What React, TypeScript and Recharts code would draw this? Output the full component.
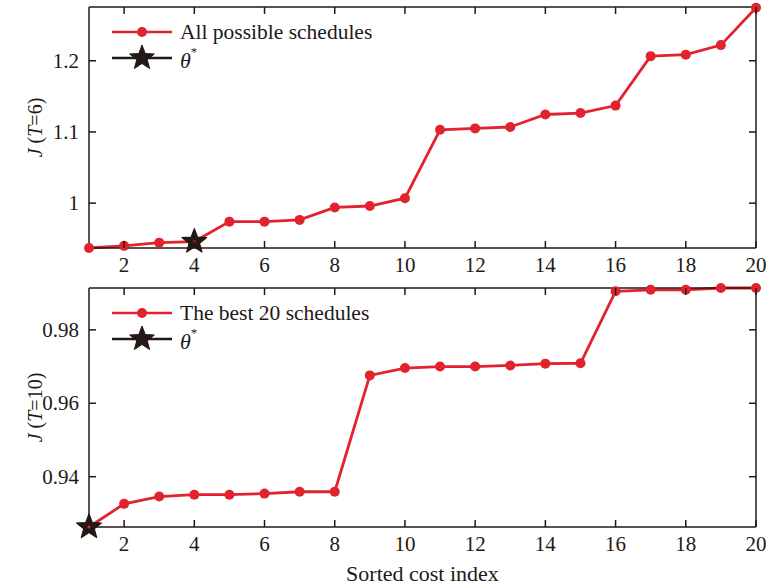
import React from 'react';
import { LineChart, Line, XAxis, YAxis, Legend } from 'recharts';

const sortedIndex = [1, 2, 3, 4, 5, 6, 7, 8, 9, 10, 11, 12, 13, 14, 15, 16, 17, 18, 19, 20];
const allSchedulesT6 = [0.937, 0.94, 0.9445, 0.946, 0.974, 0.974, 0.9765, 0.994, 0.996, 1.007, 1.103, 1.105, 1.107, 1.1245, 1.1265, 1.137, 1.2065, 1.2085, 1.222, 1.2745];
const best20T10 = [0.9263, 0.9326, 0.9346, 0.9351, 0.9351, 0.9354, 0.9359, 0.9359, 0.9676, 0.9696, 0.97, 0.97, 0.9703, 0.9708, 0.9709, 0.9905, 0.9909, 0.9909, 0.9914, 0.9914];
const thetaStarIndexT6 = 4;
const thetaStarIndexT10 = 1;
const xTicks = [2, 4, 6, 8, 10, 12, 14, 16, 18, 20];
const yTicksT6 = [1, 1.1, 1.2];
const yTicksT10 = [0.94, 0.96, 0.98];
const yDomainT6: [number, number] = [0.937, 1.2755];
const yDomainT10: [number, number] = [0.9263, 0.9914];

const RED = '#e2232e';
const DARK = '#231815';
const FONT = '"Liberation Serif", "Times New Roman", serif';
const TICK_LEN = 7;
const X_GAP = 9;
const Y_GAP = 10;

const buildData = (vals: number[], starIdx: number) =>
  sortedIndex.map((i, k) => ({ idx: i, J: vals[k], star: i === starIdx ? vals[k] : null }));

const dataT6 = buildData(allSchedulesT6, thetaStarIndexT6);
const dataT10 = buildData(best20T10, thetaStarIndexT10);

const starPoints = (cx: number, cy: number, R: number, r: number) => {
  const pts: string[] = [];
  for (let i = 0; i < 10; i++) {
    const rad = i % 2 === 0 ? R : r;
    const a = -Math.PI / 2 + (i * Math.PI) / 5;
    pts.push(`${cx + rad * Math.cos(a)},${cy + rad * Math.sin(a)}`);
  }
  return pts.join(' ');
};

const StarDot = (props: any) => {
  const { cx, cy, value, index } = props;
  if (value == null || cx == null || cy == null) return <g key={`s${index}`} />;
  return (
    <g key={`s${index}`}>
      <polygon points={starPoints(cx, cy, 13, 5.5)} fill={DARK} stroke={DARK} strokeWidth={1.2} strokeLinejoin="round" />
      <circle cx={cx} cy={cy} r={1.6} fill={RED} />
    </g>
  );
};

const YLabel = ({ viewBox, t }: any) => {
  const { x, y, height } = viewBox;
  const cx = x + 35;
  const cy = y + height / 2;
  return (
    <text x={cx} y={cy} transform={`rotate(-90 ${cx} ${cy})`} textAnchor="middle" dominantBaseline="central"
      fontFamily={FONT} fontSize={20} fill={DARK}>
      <tspan fontStyle="italic">J</tspan>
      <tspan> (</tspan>
      <tspan fontStyle="italic">T</tspan>
      <tspan>={t})</tspan>
    </text>
  );
};

const makeLegend = (label: string) => () => (
  <svg width={320} height={60} style={{ display: 'block' }}>
    <line x1={8} x2={68} y1={13} y2={13} stroke={RED} strokeWidth={2.5} />
    <circle cx={38} cy={13} r={5} fill={RED} />
    <text x={76} y={13} dominantBaseline="central" fontFamily={FONT} fontSize={21.5} fill={DARK}>{label}</text>
    <line x1={8} x2={68} y1={39} y2={39} stroke={DARK} strokeWidth={2.5} />
    <polygon points={starPoints(38, 39, 13, 5.5)} fill={DARK} stroke={DARK} strokeLinejoin="round" />
    <text x={76} y={41} dominantBaseline="central" fontFamily={FONT} fontSize={22} fill={DARK}>
      <tspan fontStyle="italic">θ</tspan>
      <tspan dy={-9} fontSize={13}>*</tspan>
    </text>
  </svg>
);

const BottomTick = (props: any) => {
  const { x, y, payload } = props;
  const ay = y - X_GAP;
  return (
    <g>
      <line x1={x} x2={x} y1={ay} y2={ay - TICK_LEN} stroke={DARK} strokeWidth={1.5} />
      <text x={x} y={y} textAnchor="middle" dominantBaseline="hanging" fontFamily={FONT} fontSize={21} fill={DARK}>
        {payload.value}
      </text>
    </g>
  );
};
const TopTick = (props: any) => {
  const { x, y } = props;
  return <line x1={x} x2={x} y1={y} y2={y + TICK_LEN} stroke={DARK} strokeWidth={1.5} />;
};
const LeftTick = (props: any) => {
  const { x, y, payload } = props;
  const ax = x + Y_GAP;
  return (
    <g>
      <line x1={ax} x2={ax + TICK_LEN} y1={y} y2={y} stroke={DARK} strokeWidth={1.5} />
      <text x={x} y={y} textAnchor="end" dominantBaseline="central" fontFamily={FONT} fontSize={21} fill={DARK}>
        {String(payload.value)}
      </text>
    </g>
  );
};
const RightTick = (props: any) => {
  const { x, y } = props;
  return <line x1={x} x2={x - TICK_LEN} y1={y} y2={y} stroke={DARK} strokeWidth={1.5} />;
};

const Panel = ({ data, domain, yTicks, t, legendLabel, height, marginTop, showXLabel }: any) => (
  <LineChart width={767} height={height} data={data} margin={{ top: marginTop - 1, right: 0, bottom: 0, left: 0 }}>
    <XAxis xAxisId="b" dataKey="idx" type="number" domain={[1, 20]} ticks={xTicks} orientation="bottom"
      height={showXLabel ? 58 : 37} tickSize={0} tickMargin={X_GAP} stroke={DARK} strokeWidth={1.5}
      tick={BottomTick} tickLine={false} interval={0}
      label={showXLabel ? { value: 'Sorted cost index', position: 'insideBottom', offset: 4, style: { fontFamily: FONT, fontSize: 22, fill: DARK } } : undefined} />
    <XAxis xAxisId="t" dataKey="idx" type="number" domain={[1, 20]} ticks={xTicks} orientation="top"
      height={1} tickSize={0} tickMargin={0} tick={TopTick} tickLine={false} stroke={DARK} strokeWidth={1.5} interval={0} />
    <YAxis yAxisId="l" type="number" domain={domain} ticks={yTicks} orientation="left" width={89}
      tickSize={0} tickMargin={Y_GAP} stroke={DARK} strokeWidth={1.5} tick={LeftTick} tickLine={false} interval={0}
      label={<YLabel t={t} />} />
    <YAxis yAxisId="r" type="number" domain={domain} ticks={yTicks} orientation="right" width={11}
      tickSize={0} tickMargin={0} tick={RightTick} tickLine={false} stroke={DARK} strokeWidth={1.5} interval={0} />
    <Legend content={makeLegend(legendLabel)} layout="horizontal" verticalAlign="middle" align="center"
      wrapperStyle={{ left: 104, top: marginTop + 12, width: 320, height: 60 }} />
    <Line xAxisId="t" yAxisId="r" dataKey="J" stroke="none" strokeOpacity={0} dot={false} activeDot={false}
      legendType="none" isAnimationActive={false} />
    <Line xAxisId="b" yAxisId="l" dataKey="J" stroke={RED} strokeWidth={2.8} isAnimationActive={false}
      dot={{ r: 5, fill: RED, stroke: RED, strokeWidth: 0 }} activeDot={false} />
    <Line xAxisId="b" yAxisId="l" dataKey="star" stroke={DARK} isAnimationActive={false}
      dot={StarDot} activeDot={false} connectNulls={false} />
  </LineChart>
);

export default function App() {
  return (
    <div style={{ position: 'absolute', left: 0, top: 0, width: 767, height: 585, background: '#fff' }}>
      <div style={{ position: 'absolute', left: 0, top: 0 }}>
        <Panel data={dataT6} domain={yDomainT6} yTicks={yTicksT6} t="6" legendLabel="All possible schedules"
          height={285} marginTop={7} showXLabel={false} />
      </div>
      <div style={{ position: 'absolute', left: 0, top: 280 }}>
        <Panel data={dataT10} domain={yDomainT10} yTicks={yTicksT10} t="10" legendLabel="The best 20 schedules"
          height={305} marginTop={8} showXLabel={true} />
      </div>
    </div>
  );
}
